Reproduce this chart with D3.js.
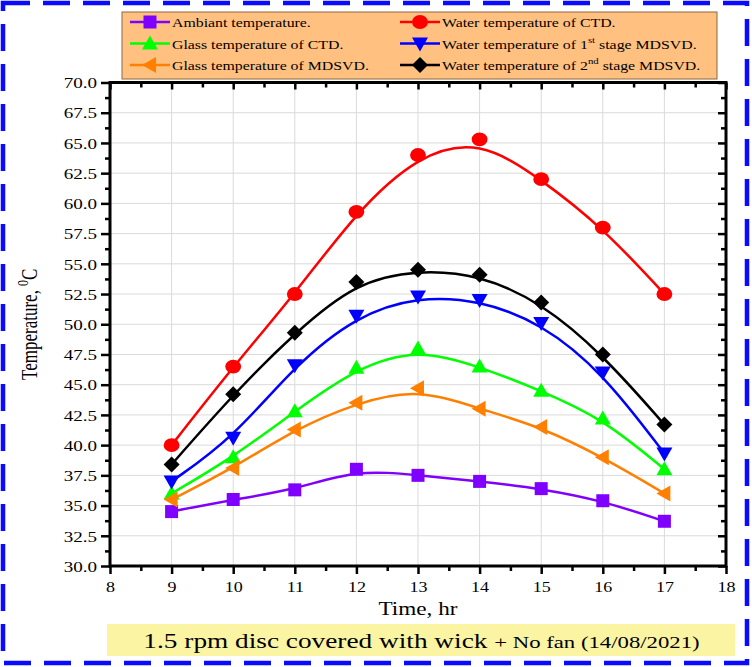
<!DOCTYPE html>
<html>
<head>
<meta charset="utf-8">
<script src="https://cdn.jsdelivr.net/npm/d3@7"></script>
<style>
  body { margin: 0; background: #fff; }
  svg { display: block; font-family: "Liberation Serif", "Times New Roman", serif; }
</style>
</head>
<body>
<svg id="chart" width="752" height="667"></svg>
<script>
// data
const hours = [9, 10, 11, 12, 13, 14, 15, 16, 17];
const ambient = [34.5, 35.5, 36.3, 38.0, 37.5, 37.0, 36.4, 35.4, 33.7];
const waterCTD = [40.0, 46.5, 52.5, 59.3, 64.0, 65.3, 62.0, 58.0, 52.5];
const glassCTD = [36.0, 39.0, 42.8, 46.4, 48.0, 46.5, 44.5, 42.2, 38.0];
const water1st = [37.0, 40.6, 46.6, 50.7, 52.3, 52.0, 50.1, 46.0, 39.3];
const glassMDSVD = [35.5, 38.1, 41.3, 43.5, 44.7, 43.0, 41.5, 39.0, 36.0];
const water2nd = [38.4, 44.2, 49.3, 53.5, 54.5, 54.1, 51.8, 47.5, 41.7];

const xTicks = [8, 9, 10, 11, 12, 13, 14, 15, 16, 17, 18];
const yTicks = [30, 32.5, 35, 37.5, 40, 42.5, 45, 47.5, 50, 52.5, 55, 57.5, 60, 62.5, 65, 67.5, 70];

const series = [
  { name: "Ambiant temperature.", values: ambient, color: "#8000ff", symbol: "square" },
  { name: "Water temperature of CTD.", values: waterCTD, color: "#ff0000", symbol: "circle" },
  { name: "Glass temperature of CTD.", values: glassCTD, color: "#00ff00", symbol: "up" },
  { name: "Water temperature of |1|st| stage MDSVD.", values: water1st, color: "#0000ff", symbol: "down" },
  { name: "Glass temperature of MDSVD.", values: glassMDSVD, color: "#ff8000", symbol: "left" },
  { name: "Water temperature of |2|nd| stage MDSVD.", values: water2nd, color: "#000000", symbol: "diamond" }
];

const svg = d3.select("#chart");
const margin = { left: 110, right: 26, top: 82.5, bottom: 101 };
const width = 752 - margin.left - margin.right;
const height = 667 - margin.top - margin.bottom;

// the original figure is stretched sideways, text included
const stretch = 1.25;

// outer dashed frame
svg.append("rect")
  .attr("x", 3).attr("y", 3).attr("width", 744).attr("height", 660)
  .attr("fill", "none").attr("stroke", "#0a0aff").attr("stroke-width", 4.5)
  .attr("stroke-dasharray", "27,13");

const x = d3.scaleLinear().domain([8, 18]).range([0, width]);
const y = d3.scaleLinear().domain([30, 70]).range([height, 0]);

const g = svg.append("g").attr("transform", `translate(${margin.left},${margin.top})`);

// grid
g.append("g").selectAll("line").data(xTicks.slice(1, -1)).join("line")
  .attr("x1", d => x(d)).attr("x2", d => x(d)).attr("y1", 0).attr("y2", height)
  .attr("stroke", "#dadada").attr("stroke-width", 1);
g.append("g").selectAll("line").data(yTicks.slice(1, -1)).join("line")
  .attr("x1", 0).attr("x2", width).attr("y1", d => y(d)).attr("y2", d => y(d))
  .attr("stroke", "#dadada").attr("stroke-width", 1);

// series lines and markers
const line = d3.line().x((d, i) => x(hours[i])).y(d => y(d)).curve(d3.curveBasis);

function symbolPath(type) {
  if (type === "square") return "M-6.5,-6.5H6.5V6.5H-6.5Z";
  if (type === "circle") return d3.symbol(d3.symbolCircle, 150)();
  if (type === "up") return "M0,-8L8,6H-8Z";
  if (type === "down") return "M0,8L8,-6H-8Z";
  if (type === "left") return "M-8,0L6,-8V8Z";
  return "M0,-8L8,0L0,8L-8,0Z";
}

series.forEach(s => {
  g.append("path").datum(s.values)
    .attr("d", line).attr("fill", "none")
    .attr("stroke", s.color).attr("stroke-width", 2.5);
  g.append("g").selectAll("path").data(s.values).join("path")
    .attr("transform", (d, i) => `translate(${x(hours[i])},${y(d)})` + (s.symbol === "circle" ? " scale(1.15,1)" : ""))
    .attr("d", symbolPath(s.symbol))
    .attr("fill", s.color);
});

// axes
const xMinor = d3.range(8.5, 18, 1);
const yMinor = d3.range(31.25, 70, 2.5);

const xAxisG = g.append("g").attr("transform", `translate(0,${height})`)
  .call(d3.axisBottom(x).tickValues(xTicks).tickFormat(d3.format("d")).tickSize(8).tickPadding(7));
const yAxisG = g.append("g")
  .call(d3.axisLeft(y).tickValues(yTicks).tickFormat(d3.format(".1f")).tickSize(9).tickPadding(4));
g.append("g")
  .call(d3.axisBottom(x).tickValues(xTicks).tickFormat("").tickSize(7));
g.append("g").attr("transform", `translate(${width},0)`)
  .call(d3.axisLeft(y).tickValues(yTicks).tickFormat("").tickSize(8));

g.append("g").attr("transform", `translate(0,${height})`)
  .call(d3.axisBottom(x).tickValues(xMinor).tickFormat("").tickSize(5));
g.append("g").call(d3.axisLeft(y).tickValues(yMinor).tickFormat("").tickSize(5));
g.append("g").call(d3.axisBottom(x).tickValues(xMinor).tickFormat("").tickSize(5));
g.append("g").attr("transform", `translate(${width},0)`)
  .call(d3.axisLeft(y).tickValues(yMinor).tickFormat("").tickSize(5));

g.selectAll(".domain").remove();
g.selectAll(".tick line").attr("stroke", "#000").attr("stroke-width", 2.5);
g.selectAll(".tick text").attr("font-family", "Liberation Serif").attr("font-size", 15).attr("fill", "#000");
xAxisG.selectAll(".tick text").attr("transform", "scale(1.2,1)");
yAxisG.selectAll(".tick text").attr("transform", "scale(1.27,1)").attr("x", -13 / 1.27).attr("dy", "0.35em");

g.append("rect").attr("width", width).attr("height", height)
  .attr("fill", "none").attr("stroke", "#000").attr("stroke-width", 3);

// axis titles
svg.append("text")
  .attr("transform", `translate(${margin.left + width / 2},615) scale(1.22,1)`)
  .attr("text-anchor", "middle").attr("font-size", 19)
  .text("Time, hr");

const yt = svg.append("text")
  .attr("transform", `translate(37,${margin.top + height / 2}) scale(1.3,1) rotate(-90)`)
  .attr("text-anchor", "middle").attr("font-size", 17);
yt.append("tspan").text("Temperature, ");
yt.append("tspan").attr("dy", -7).attr("font-size", 12).text("0");
yt.append("tspan").attr("dy", 7).text("C");

// legend
const legend = svg.append("g");
legend.append("rect")
  .attr("x", 122).attr("y", 12).attr("width", 595).attr("height", 67)
  .attr("fill", "#ffc080").attr("stroke", "#8a6a40").attr("stroke-width", 1);

series.forEach((s, i) => {
  const col = i % 2, row = Math.floor(i / 2);
  const lx = col === 0 ? 130 : 400;
  const ly = 22 + row * 21.5;
  const item = legend.append("g").attr("transform", `translate(${lx},${ly})`);
  item.append("line").attr("x1", 0).attr("x2", 40).attr("y1", 0).attr("y2", 0)
    .attr("stroke", s.color).attr("stroke-width", 2.5);
  item.append("path").attr("transform", "translate(20,0)" + (s.symbol === "circle" ? " scale(1.15,1)" : ""))
    .attr("d", symbolPath(s.symbol)).attr("fill", s.color);
  const t = item.append("text")
    .attr("transform", `translate(42,5) scale(1.2,1)`)
    .attr("font-size", 13.2);
  const parts = s.name.split("|");
  if (parts.length === 1) {
    t.text(s.name);
  } else {
    t.append("tspan").text(parts[0]);
    t.append("tspan").text(parts[1]);
    t.append("tspan").attr("dy", -6).attr("font-size", 9).text(parts[2]);
    t.append("tspan").attr("dy", 6).text(" " + parts[3].trim());
  }
});

// caption
svg.append("rect")
  .attr("x", 107).attr("y", 624).attr("width", 628).attr("height", 32)
  .attr("fill", "#fbf5a3");
const cap = svg.append("text")
  .attr("transform", `translate(421.5,648) scale(${stretch + 0.05},1)`)
  .attr("text-anchor", "middle");
cap.append("tspan").attr("font-size", 21).text("1.5 rpm disc covered with wick ");
cap.append("tspan").attr("font-size", 17.5).text("+ No fan (14/08/2021)");
</script>
</body>
</html>
